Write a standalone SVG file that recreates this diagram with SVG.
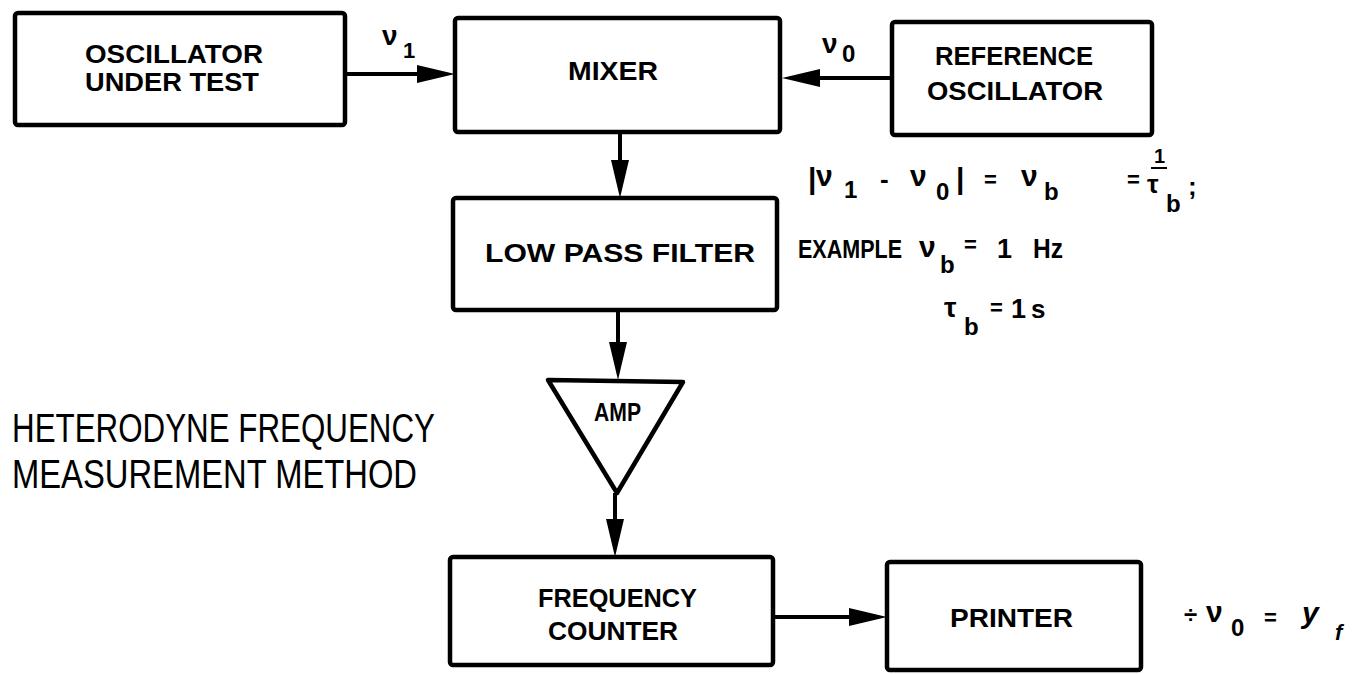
<svg xmlns="http://www.w3.org/2000/svg" width="1362" height="674" viewBox="0 0 1362 674">
<style>
.box{fill:#fff;stroke:#000;stroke-width:4.5;stroke-linejoin:round}
.lbl{font-family:"Liberation Sans","DejaVu Sans",sans-serif;font-weight:bold;font-size:25px;fill:#000}
.conn{stroke:#000;stroke-width:4;fill:none}
.math{font-family:"Liberation Sans","DejaVu Sans",sans-serif;font-weight:bold;fill:#000}
.title{font-family:"Liberation Sans","DejaVu Sans",sans-serif;font-size:41px;fill:#000}
</style>
<defs>
<marker id="ah" markerUnits="userSpaceOnUse" markerWidth="40" markerHeight="20" refX="8" refY="9" orient="auto">
<path d="M0,0 L38,9 L0,18 z" fill="#000"/>
</marker>
</defs>
<rect width="1362" height="674" fill="#fff"/>

<g id="osc-under-test">
<rect class="box" x="15" y="13" width="330" height="112" rx="3"/>
<text class="lbl" x="85" y="63" textLength="178" lengthAdjust="spacingAndGlyphs">OSCILLATOR</text>
<text class="lbl" x="85" y="91" textLength="174" lengthAdjust="spacingAndGlyphs">UNDER TEST</text>
</g>
<g id="mixer">
<rect class="box" x="455" y="18" width="325" height="114" rx="3"/>
<text class="lbl" x="568" y="80" textLength="90" lengthAdjust="spacingAndGlyphs">MIXER</text>
</g>
<g id="reference-oscillator">
<rect class="box" x="892" y="22" width="260" height="113" rx="3"/>
<text class="lbl" x="935" y="65" textLength="158" lengthAdjust="spacingAndGlyphs">REFERENCE</text>
<text class="lbl" x="927" y="100" textLength="176" lengthAdjust="spacingAndGlyphs">OSCILLATOR</text>
</g>
<g id="low-pass-filter">
<rect class="box" x="453" y="198" width="324" height="112" rx="3"/>
<text class="lbl" x="485" y="262" textLength="270" lengthAdjust="spacingAndGlyphs">LOW PASS FILTER</text>
</g>
<g id="amp">
<polygon class="box" points="548,380 683,382 617,493"/>
<text class="lbl" x="594" y="421" font-size="23" textLength="47" lengthAdjust="spacingAndGlyphs">AMP</text>
</g>
<g id="frequency-counter">
<rect class="box" x="450" y="557" width="323" height="108" rx="3"/>
<text class="lbl" x="538" y="607" textLength="159" lengthAdjust="spacingAndGlyphs">FREQUENCY</text>
<text class="lbl" x="548" y="640" textLength="130" lengthAdjust="spacingAndGlyphs">COUNTER</text>
</g>
<g id="printer">
<rect class="box" x="887" y="562" width="254" height="108" rx="3"/>
<text class="lbl" x="950" y="627" textLength="123" lengthAdjust="spacingAndGlyphs">PRINTER</text>
</g>

<g id="connectors">
<line class="conn" x1="347" y1="74" x2="425" y2="74" marker-end="url(#ah)"/>
<line class="conn" x1="890" y1="78" x2="812" y2="78" marker-end="url(#ah)"/>
<line class="conn" x1="620" y1="132" x2="620" y2="168" marker-end="url(#ah)"/>
<line class="conn" x1="618" y1="310" x2="618" y2="350" marker-end="url(#ah)"/>
<line class="conn" x1="615" y1="493" x2="615" y2="527" marker-end="url(#ah)"/>
<line class="conn" x1="773" y1="617" x2="857" y2="617" marker-end="url(#ah)"/>
</g>

<g id="signal-labels" class="math">
<text x="382" y="45" font-size="28">ν</text>
<text x="403" y="58" font-size="22">1</text>
<text x="822" y="53" font-size="28">ν</text>
<text x="842" y="62" font-size="24">0</text>
</g>

<g id="formulas" class="math">
<text x="808" y="189" font-size="30">|</text>
<text x="816" y="186" font-size="30">ν</text>
<text x="844" y="198" font-size="24">1</text>
<text x="880" y="188" font-size="26">-</text>
<text x="910" y="186" font-size="30">ν</text>
<text x="936" y="200" font-size="24">0</text>
<text x="956" y="189" font-size="30">|</text>
<text x="984" y="187" font-size="22">=</text>
<text x="1021" y="186" font-size="30">ν</text>
<text x="1044" y="200" font-size="24">b</text>
<text x="1127" y="187" font-size="22">=</text>
<text x="1154" y="163" font-size="20">1</text>
<line x1="1151" y1="168" x2="1167" y2="168" stroke="#000" stroke-width="2"/>
<text x="1147" y="193" font-size="26">τ</text>
<text x="1166" y="212" font-size="24">b</text>
<text x="1188" y="195" font-size="26">;</text>

<text x="798" y="258" font-size="26" textLength="104" lengthAdjust="spacingAndGlyphs">EXAMPLE</text>
<text x="919" y="257" font-size="30">ν</text>
<text x="940" y="273" font-size="24">b</text>
<text x="964" y="252" font-size="22">=</text>
<text x="997" y="258" font-size="27">1</text>
<text x="1033" y="258" font-size="27" textLength="30" lengthAdjust="spacingAndGlyphs">Hz</text>

<text x="944" y="317" font-size="28">τ</text>
<text x="964" y="335" font-size="24">b</text>
<text x="990" y="315" font-size="22">=</text>
<text x="1011" y="318" font-size="27">1</text>
<text x="1031" y="318" font-size="26">s</text>

<text x="1184" y="623" font-size="24">÷</text>
<text x="1206" y="622" font-size="30">ν</text>
<text x="1231" y="636" font-size="24">0</text>
<text x="1264" y="625" font-size="22">=</text>
<text x="1302" y="623" font-size="30" font-style="italic">y</text>
<text x="1335" y="640" font-size="22" font-style="italic">f</text>
</g>

<g id="title">
<text class="title" x="12" y="442" textLength="423" lengthAdjust="spacingAndGlyphs">HETERODYNE FREQUENCY</text>
<text class="title" x="12" y="488" textLength="405" lengthAdjust="spacingAndGlyphs">MEASUREMENT METHOD</text>
</g>
</svg>
